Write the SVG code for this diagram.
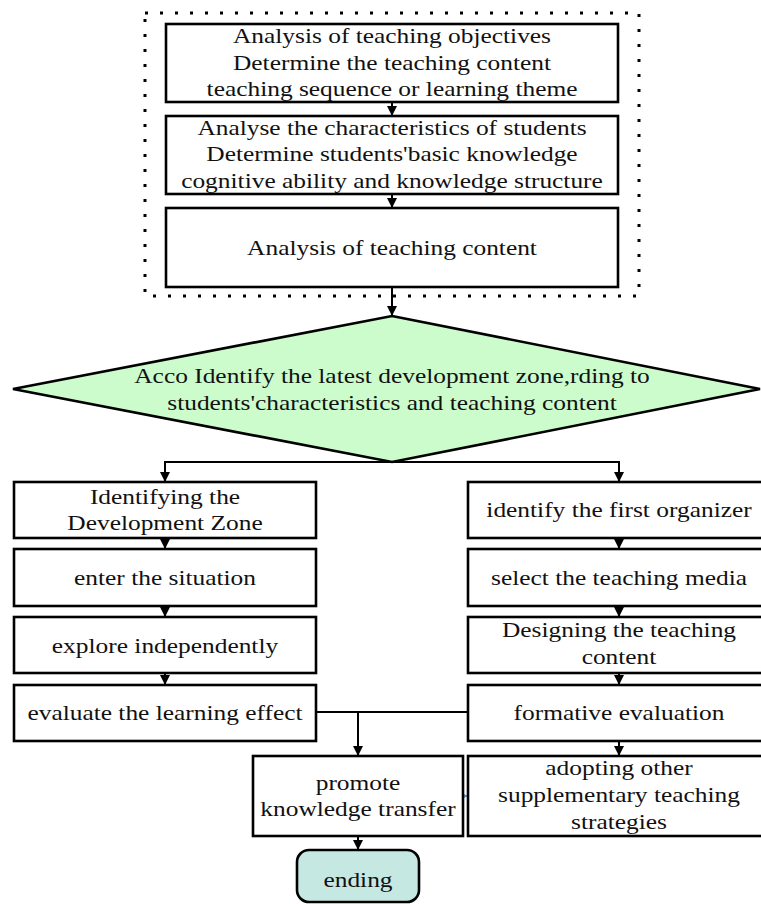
<svg xmlns="http://www.w3.org/2000/svg" width="761" height="904" viewBox="0 0 761 904">
<style>
.box{fill:#fff;stroke:#000;stroke-width:2.6}
.t{font-family:"Liberation Serif","Times New Roman",serif;font-size:22px;fill:#111;text-anchor:middle}
.c{fill:none;stroke:#000;stroke-width:2}
</style>
<defs>
<marker id="ah" viewBox="0 0 10 10" refX="10" refY="5" markerWidth="5" markerHeight="5" markerUnits="strokeWidth" orient="auto">
<path d="M0,0 L10,5 L0,10 z" fill="#000"/>
</marker>
<marker id="ahb" viewBox="0 0 10 10" refX="10" refY="5" markerWidth="4" markerHeight="6" markerUnits="strokeWidth" orient="auto">
<path d="M0,0 L10,5 L0,10 z" fill="#5b9bd5"/>
</marker>
</defs>
<rect id="frame" x="145" y="13" width="494" height="283" fill="none" stroke="#000" stroke-width="3" stroke-dasharray="3 12"/>
<g id="connectors">
<line class="c" x1="392" y1="102" x2="392" y2="116" marker-end="url(#ah)"/>
<line class="c" x1="392" y1="194" x2="392" y2="208" marker-end="url(#ah)"/>
<line class="c" x1="392" y1="287" x2="392" y2="316" marker-end="url(#ah)"/>
<polyline class="c" points="165,482 165,462 619,462 619,482" marker-end="url(#ah)"/>
<line class="c" x1="165" y1="462" x2="165" y2="482" marker-end="url(#ah)"/>
<line class="c" x1="165" y1="538" x2="165" y2="549" marker-end="url(#ah)"/>
<line class="c" x1="165" y1="606" x2="165" y2="617" marker-end="url(#ah)"/>
<line class="c" x1="165" y1="673" x2="165" y2="685" marker-end="url(#ah)"/>
<line class="c" x1="619" y1="538" x2="619" y2="549" marker-end="url(#ah)"/>
<line class="c" x1="619" y1="606" x2="619" y2="617" marker-end="url(#ah)"/>
<line class="c" x1="619" y1="673" x2="619" y2="685" marker-end="url(#ah)"/>
<line class="c" x1="619" y1="741" x2="619" y2="756" marker-end="url(#ah)"/>
<line class="c" x1="316" y1="712" x2="468" y2="712"/>
<line class="c" x1="358" y1="712" x2="358" y2="756" marker-end="url(#ah)"/>
<line class="c" x1="358" y1="836" x2="358" y2="850" marker-end="url(#ah)"/>
<line x1="463" y1="796" x2="468" y2="796" stroke="#5b9bd5" stroke-width="1.5" marker-end="url(#ahb)"/>
</g>
<g id="n1"><rect class="box" x="166" y="24" width="452" height="78"/>
<g transform="translate(392,0) scale(1.155,1)"><text class="t" x="0" y="43">Analysis of teaching objectives</text><text class="t" x="0" y="70">Determine the teaching content</text><text class="t" x="0" y="96">teaching sequence or learning theme</text></g></g>
<g id="n2"><rect class="box" x="166" y="116" width="452" height="78"/>
<g transform="translate(392,0) scale(1.155,1)"><text class="t" x="0" y="135">Analyse the characteristics of students</text><text class="t" x="0" y="161">Determine students'basic knowledge</text><text class="t" x="0" y="188">cognitive ability and knowledge structure</text></g></g>
<g id="n3"><rect class="box" x="166" y="208" width="452" height="79"/>
<g transform="translate(392,0) scale(1.155,1)"><text class="t" x="0" y="255">Analysis of teaching content</text></g></g>
<g id="n4"><polygon points="392,316 760,389 392,462 13,389" fill="#ccfccc" stroke="#000" stroke-width="2.6"/>
<g transform="translate(392,0) scale(1.155,1)"><text class="t" x="0" y="383">Acco Identify the latest development zone,rding to</text><text class="t" x="0" y="410">students'characteristics and teaching content</text></g></g>
<g id="n5"><rect class="box" x="14" y="482" width="302" height="56"/>
<g transform="translate(165,0) scale(1.155,1)"><text class="t" x="0" y="504">Identifying the</text><text class="t" x="0" y="530">Development Zone</text></g></g>
<g id="n6"><rect class="box" x="14" y="549" width="302" height="57"/>
<g transform="translate(165,0) scale(1.155,1)"><text class="t" x="0" y="585">enter the situation</text></g></g>
<g id="n7"><rect class="box" x="14" y="617" width="302" height="56"/>
<g transform="translate(165,0) scale(1.155,1)"><text class="t" x="0" y="653">explore independently</text></g></g>
<g id="n8"><rect class="box" x="14" y="685" width="302" height="56"/>
<g transform="translate(165,0) scale(1.155,1)"><text class="t" x="0" y="720">evaluate the learning effect</text></g></g>
<g id="n9"><rect class="box" x="468" y="482" width="304" height="56"/>
<g transform="translate(619,0) scale(1.155,1)"><text class="t" x="0" y="517">identify the first organizer</text></g></g>
<g id="n10"><rect class="box" x="468" y="549" width="304" height="57"/>
<g transform="translate(619,0) scale(1.155,1)"><text class="t" x="0" y="585">select the teaching media</text></g></g>
<g id="n11"><rect class="box" x="468" y="617" width="304" height="56"/>
<g transform="translate(619,0) scale(1.155,1)"><text class="t" x="0" y="637">Designing the teaching</text><text class="t" x="0" y="664">content</text></g></g>
<g id="n12"><rect class="box" x="468" y="685" width="304" height="56"/>
<g transform="translate(619,0) scale(1.155,1)"><text class="t" x="0" y="720">formative evaluation</text></g></g>
<g id="n13"><rect class="box" x="468" y="756" width="304" height="80"/>
<g transform="translate(619,0) scale(1.155,1)"><text class="t" x="0" y="775">adopting other</text><text class="t" x="0" y="802">supplementary teaching</text><text class="t" x="0" y="829">strategies</text></g></g>
<g id="n14"><rect class="box" x="253" y="756" width="210" height="80"/>
<g transform="translate(358,0) scale(1.155,1)"><text class="t" x="0" y="790">promote</text><text class="t" x="0" y="816">knowledge transfer</text></g></g>
<g id="n15"><rect x="297" y="850" width="122" height="52" rx="12" fill="#c6e8e3" stroke="#000" stroke-width="2.6"/>
<g transform="translate(358,0) scale(1.155,1)"><text class="t" x="0" y="887">ending</text></g></g>
</svg>
